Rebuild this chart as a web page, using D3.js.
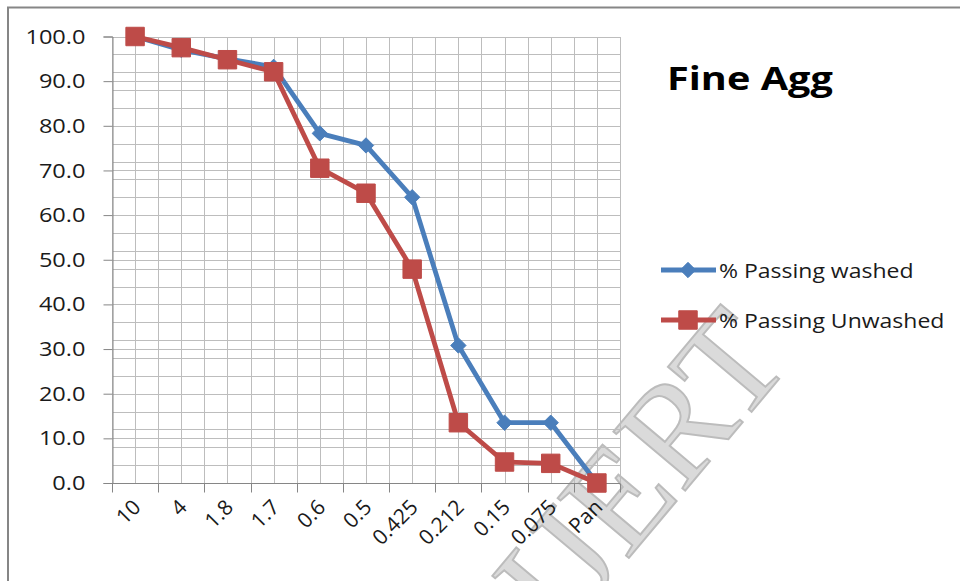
<!DOCTYPE html>
<html>
<head>
<meta charset="utf-8">
<script src="https://cdn.jsdelivr.net/npm/d3@7"></script>
<style>
  html, body { margin: 0; padding: 0; background: #fff; }
  svg { display: block; }
  text { font-family: "Open Sans", Lato, sans-serif; }
</style>
</head>
<body>
<svg id="chart" width="960" height="581"></svg>
<script>
// Sieve sizes (mm) and cumulative % passing
const sieves = ["10", "4", "1.8", "1.7", "0.6", "0.5", "0.425", "0.212", "0.15", "0.075", "Pan"];
const passingWashed   = [100.0, 97.0, 95.0, 93.2, 78.3, 75.6, 64.0, 30.8, 13.5, 13.5, 0.0];
const passingUnwashed = [100.0, 97.5, 94.8, 92.1, 70.5, 64.9, 47.9, 13.5, 4.7, 4.4, 0.0];
const yTicks = [0, 10, 20, 30, 40, 50, 60, 70, 80, 90, 100];
const yMinorTicks = d3.range(0, 101, 4);

const seriesList = [
  { name: "% Passing washed",   values: passingWashed,   color: "#4a7ebb", marker: "diamond" },
  { name: "% Passing Unwashed", values: passingUnwashed, color: "#be4b48", marker: "square" }
];

// Text is drawn slightly widened, as in the chart's original rendering
const widen = 1.15;

const svg = d3.select("#chart");
const plot = { left: 112, right: 620, top: 36.5, bottom: 483 };

// Watermark behind the chart
svg.append("text")
  .attr("transform", "translate(640,470) rotate(-50)")
  .attr("text-anchor", "middle")
  .attr("dominant-baseline", "central")
  .style("font-family", "'Liberation Serif', serif")
  .style("font-size", "142px")
  .attr("fill", "#dadada")
  .attr("stroke", "#bcbcbc")
  .attr("stroke-width", 2)
  .text("IJERT");

// Chart area frame
svg.append("path")
  .attr("d", "M8,581 L8,7.5 L960,7.5")
  .attr("fill", "none")
  .attr("stroke", "#868686")
  .attr("stroke-width", 2);

const x = d3.scaleBand().domain(sieves).range([plot.left, plot.right]).paddingInner(0).paddingOuter(0);
const y = d3.scaleLinear().domain([0, 100]).range([plot.bottom, plot.top]);
const cx = d => x(d) + x.bandwidth() / 2;

const grid = svg.append("g").attr("stroke", "#bdbdbd").attr("stroke-width", 1).attr("shape-rendering", "crispEdges");

// Vertical gridlines at category edges and centres
const vLines = [];
sieves.forEach(s => { vLines.push(x(s)); vLines.push(cx(s)); });
vLines.push(plot.right);
grid.selectAll("line.v").data(vLines).join("line")
  .attr("class", "v")
  .attr("x1", d => Math.round(d) + 0.5).attr("x2", d => Math.round(d) + 0.5)
  .attr("y1", plot.top).attr("y2", plot.bottom);

// Horizontal gridlines: minor every 4, major every 10
const hLines = Array.from(new Set(yMinorTicks.concat(yTicks)));
grid.selectAll("line.h").data(hLines).join("line")
  .attr("class", "h")
  .attr("x1", plot.left).attr("x2", plot.right)
  .attr("y1", d => Math.round(y(d)) + 0.5).attr("y2", d => Math.round(y(d)) + 0.5);

// Y axis
const yAxis = d3.axisLeft(y).tickValues(yTicks).tickFormat(d3.format(".1f")).tickSize(9).tickPadding(0);
const gy = svg.append("g").attr("transform", `translate(${plot.left + 0.5},0)`).call(yAxis);
gy.select(".domain").attr("stroke", "#868686");
gy.selectAll(".tick line").attr("stroke", "#868686");
gy.selectAll(".tick text")
  .attr("x", 0)
  .attr("transform", `translate(-27,0) scale(${widen},1)`)
  .attr("fill", "#1a1a1a")
  .style("font-size", "20.5px")
  .style("font-family", "'Open Sans', sans-serif");

// X axis: ticks at category boundaries
const xEdges = sieves.map(s => x(s)).concat([plot.right]);
const gx = svg.append("g").attr("transform", `translate(0,${plot.bottom + 0.5})`);
gx.append("line").attr("x1", plot.left).attr("x2", plot.right).attr("y1", 0).attr("y2", 0).attr("stroke", "#868686");
gx.selectAll("line.t").data(xEdges).join("line")
  .attr("class", "t")
  .attr("x1", d => Math.round(d) + 0.5).attr("x2", d => Math.round(d) + 0.5)
  .attr("y1", 0).attr("y2", 9).attr("stroke", "#868686");
gx.selectAll("text").data(sieves).join("text")
  .attr("transform", d => `translate(${cx(d) + 7},${25}) rotate(-45)`)
  .attr("text-anchor", "end")
  .attr("fill", "#1a1a1a")
  .style("font-size", "21px")
  .text(d => d);

// Series lines and markers
const line = d3.line().x((d, i) => cx(sieves[i])).y(d => y(d));
const diamond = d3.symbol().type(d3.symbolDiamond2).size(150);
const square = d3.symbol().type(d3.symbolSquare).size(340);

seriesList.forEach(s => {
  const g = svg.append("g");
  g.append("path")
    .attr("d", line(s.values))
    .attr("fill", "none")
    .attr("stroke", s.color)
    .attr("stroke-width", 4.8)
    .attr("stroke-linejoin", "round");
  g.selectAll("path.m").data(s.values).join("path")
    .attr("class", "m")
    .attr("d", s.marker === "diamond" ? diamond() : square())
    .attr("transform", (d, i) => `translate(${cx(sieves[i])},${y(d)})`)
    .attr("fill", s.color)
    .attr("stroke", s.color)
    .attr("stroke-width", 1);
});

// Title
svg.append("text")
  .attr("transform", "translate(667,90) scale(1.22,1)")
  .attr("fill", "#000")
  .style("font-size", "32.5px")
  .style("font-weight", "bold")
  .text("Fine Agg");

// Legend
const legend = svg.append("g");
seriesList.forEach((s, i) => {
  const ly = 270 + i * 50;
  const lg = legend.append("g");
  lg.append("line").attr("x1", 661).attr("x2", 716).attr("y1", ly).attr("y2", ly)
    .attr("stroke", s.color).attr("stroke-width", 4.8);
  lg.append("path")
    .attr("d", s.marker === "diamond" ? diamond() : square())
    .attr("transform", `translate(688,${ly})`)
    .attr("fill", s.color).attr("stroke", s.color);
  lg.append("text")
    .attr("transform", `translate(719,${ly + 8}) scale(${widen},1)`)
    .attr("fill", "#1a1a1a")
    .style("font-size", "20px")
    .text(s.name);
});
</script>
</body>
</html>
